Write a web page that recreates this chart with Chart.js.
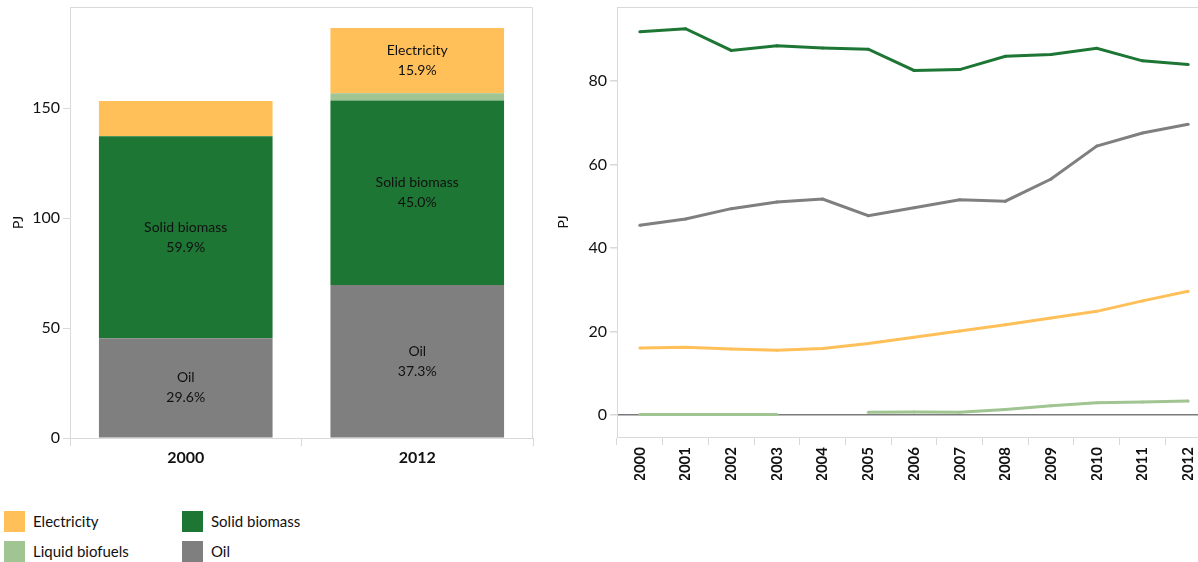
<!DOCTYPE html>
<html><head><meta charset="utf-8">
<script src="https://cdn.jsdelivr.net/npm/chart.js@4.4.0/dist/chart.umd.min.js"></script>
<style>
html,body{margin:0;padding:0;width:1198px;height:562px;overflow:hidden;background:#fff;font-family:Lato,"Open Sans",sans-serif;}
#leftWrap{position:absolute;left:0;top:0;width:545px;height:480px;}
#rightWrap{position:absolute;left:545px;top:0;width:670px;height:480px;}
#legend{position:absolute;left:4px;top:511px;width:400px;height:52px;}
.item{position:absolute;height:21px;line-height:21px;font-size:15px;color:#111;white-space:nowrap;}
.sw{position:absolute;left:0;top:0;width:21px;height:21px;}
.lbl{position:absolute;left:29px;top:0;}
</style>
</head><body>
<div id="leftWrap"><canvas id="left" width="545" height="480"></canvas></div>
<div id="rightWrap"><canvas id="right" width="670" height="480"></canvas></div>
<div id="legend"></div>
<script>
// ---- data ----
const years = ['2000','2001','2002','2003','2004','2005','2006','2007','2008','2009','2010','2011','2012'];
const barYears = ['2000','2012'];
const electricity    = [16.0,16.2,15.8,15.5,15.9,17.1,18.6,20.1,21.6,23.2,24.8,27.3,29.6];
const solidBiomass   = [91.8,92.5,87.3,88.4,87.9,87.6,82.5,82.7,85.9,86.3,87.8,84.8,83.9];
const liquidBiofuels = [0.1,0.1,0.1,0.1,null,0.6,0.7,0.6,1.3,2.2,2.9,3.1,3.3];
const oil            = [45.4,46.9,49.4,51.0,51.7,47.7,49.6,51.5,51.2,56.5,64.4,67.5,69.6];
const leftTicks = [0,50,100,150];
const rightTicks = [0,20,40,60,80];
const seriesNames = ['Electricity','Solid biomass','Liquid biofuels','Oil'];
const seriesColors = ['#FFC05A','#1E7634','#A0C492','#7F7F7F'];

const FONT = 'Lato, "Open Sans", sans-serif';
const GRID = '#d9d9d9';

function pick(arr){ const i0 = years.indexOf(barYears[0]), i1 = years.indexOf(barYears[1]); return [arr[i0]||0, arr[i1]||0]; }

const frame = {
  id:'frame',
  afterDraw(c){
    const a=c.chartArea, ctx=c.ctx; ctx.save();
    ctx.strokeStyle=GRID; ctx.lineWidth=1; ctx.beginPath();
    ctx.moveTo(a.left, a.top+0.5); ctx.lineTo(a.right-0.5, a.top+0.5); ctx.lineTo(a.right-0.5, a.bottom);
    ctx.stroke(); ctx.restore();
  }
};

const barLabels = {
  id:'barLabels',
  afterDatasetsDraw(c){
    const ctx=c.ctx; ctx.save();
    ctx.font='14px '+FONT; ctx.fillStyle='#111'; ctx.textAlign='center'; ctx.textBaseline='middle';
    const totals = c.data.labels.map((_,j)=>c.data.datasets.reduce((s,d)=>s+(d.data[j]||0),0));
    c.data.datasets.forEach((d,i)=>{
      const meta=c.getDatasetMeta(i);
      meta.data.forEach((el,j)=>{
        const h = el.base - el.y;
        if (h < 50) return;
        const cy=(el.y+el.base)/2;
        const pct=(d.data[j]/totals[j]*100).toFixed(1)+'%';
        ctx.fillText(d.label, el.x, cy-10);
        ctx.fillText(pct, el.x, cy+10);
      });
    });
    ctx.restore();
  }
};

const barSeries = [oil, solidBiomass, liquidBiofuels, electricity];
const barNames = ['Oil','Solid biomass','Liquid biofuels','Electricity'];
const barCols = ['#7F7F7F','#1E7634','#A0C492','#FFC05A'];

function noPad(s){ s.paddingTop=0; s.paddingBottom=0; }

new Chart(document.getElementById('left'), {
  type:'bar',
  data:{
    labels: barYears,
    datasets: barSeries.map((s,i)=>({label:barNames[i], data:pick(s), backgroundColor:barCols[i], borderWidth:0,
      categoryPercentage:1, barPercentage:0.75}))
  },
  options:{
    responsive:false, animation:false,
    layout:{padding:{top:7,right:12,left:0,bottom:0}},
    plugins:{legend:{display:false}, tooltip:{enabled:false}},
    scales:{
      x:{stacked:true,
        grid:{offset:true, drawOnChartArea:false, color:GRID, tickLength:8},
        border:{color:GRID},
        ticks:{font:{family:FONT,size:16,weight:'bold'}, color:'#111', padding:2},
        afterFit(s){ s.height=42; s.paddingLeft=0; s.paddingRight=0; }
      },
      y:{stacked:true, min:0, max:196,
        grid:{drawOnChartArea:false, color:GRID, tickLength:7},
        border:{color:GRID},
        ticks:{font:{family:FONT,size:16}, color:'#111', padding:3},
        afterBuildTicks(s){ s.ticks = leftTicks.map(v=>({value:v})); },
        title:{display:true, text:'PJ', font:{family:FONT,size:14}, color:'#111', padding:{top:10,bottom:0}},
        afterFit(s){ s.width=70; noPad(s); }
      }
    }
  },
  plugins:[frame, barLabels]
});

const lineSeries = [electricity, solidBiomass, liquidBiofuels, oil];
new Chart(document.getElementById('right'), {
  type:'line',
  data:{
    labels: years,
    datasets: lineSeries.map((s,i)=>({label:seriesNames[i], data:s, borderColor:seriesColors[i], backgroundColor:seriesColors[i],
      borderWidth:3, pointRadius:1.5, pointBorderWidth:0, pointBackgroundColor:seriesColors[i], tension:0, spanGaps:false}))
  },
  options:{
    responsive:false, animation:false,
    layout:{padding:{top:7,right:4,left:0,bottom:0}},
    plugins:{legend:{display:false}, tooltip:{enabled:false}},
    scales:{
      x:{offset:true,
        grid:{offset:true, drawOnChartArea:false, color:GRID, tickLength:8},
        border:{color:GRID},
        ticks:{font:{family:FONT,size:15,weight:'bold'}, color:'#111', maxRotation:90, minRotation:90, autoSkip:false, padding:2},
        afterFit(s){ s.height=43; s.paddingLeft=0; s.paddingRight=0; }
      },
      y:{min:-5.3, max:97.7,
        grid:{drawOnChartArea:true, color:(c)=>c.tick && c.tick.value===0 ? '#7a7a7a' : 'rgba(0,0,0,0)', lineWidth:1.5, tickColor:GRID, tickLength:7},
        border:{color:GRID},
        ticks:{font:{family:FONT,size:16}, color:'#111', padding:3},
        afterBuildTicks(s){ s.ticks = rightTicks.map(v=>({value:v})); },
        title:{display:true, text:'PJ', font:{family:FONT,size:14}, color:'#111', padding:{top:10,bottom:0}},
        afterFit(s){ s.width=72; noPad(s); }
      }
    }
  },
  plugins:[frame]
});

// legend (two columns)
const order = [0,1,2,3];
const leg = document.getElementById('legend');
order.forEach((k,n)=>{
  const d=document.createElement('div'); d.className='item';
  d.style.left = (n%2===0 ? 0 : 178)+'px';
  d.style.top = (Math.floor(n/2)*30)+'px';
  d.innerHTML='<span class="sw" style="background:'+seriesColors[k]+'"></span><span class="lbl">'+seriesNames[k]+'</span>';
  leg.appendChild(d);
});
</script>
</body></html>
